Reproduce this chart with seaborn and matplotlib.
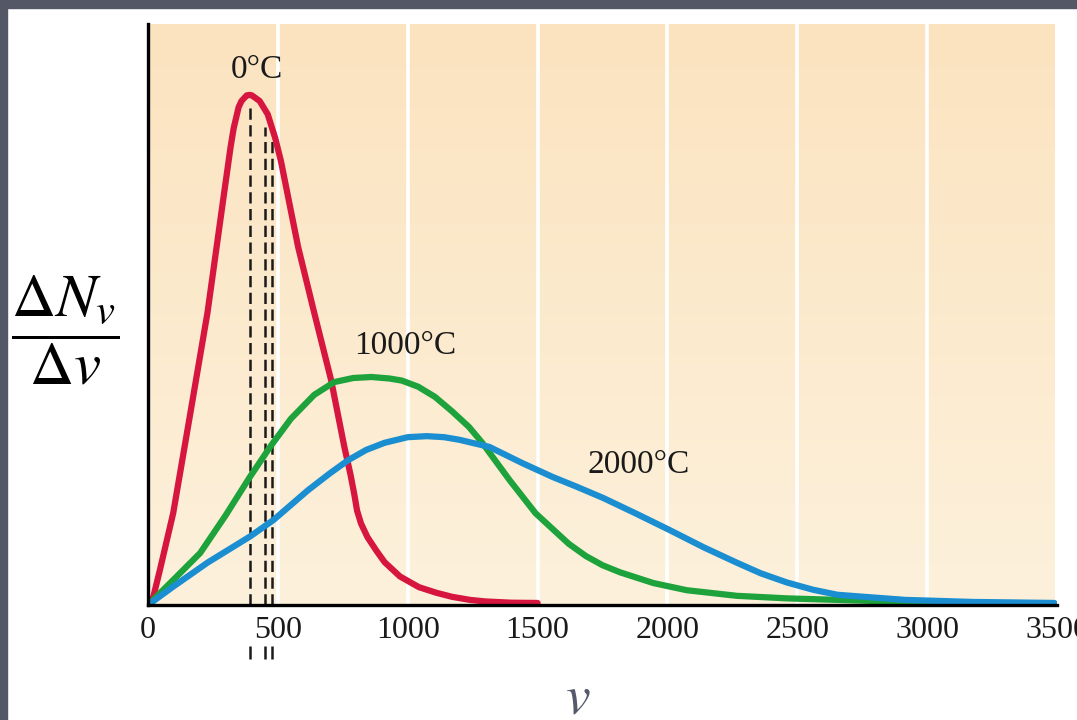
import numpy as np
import matplotlib
matplotlib.use("Agg")
import matplotlib.pyplot as plt
from matplotlib.colors import LinearSegmentedColormap
from matplotlib.patches import Rectangle
import seaborn as sns

# speed v (m/s) and relative number dN/dv (red peak = 100)
v_0c = [0, 20, 46, 97, 163, 229, 291, 318, 330, 349, 360, 380, 391, 400, 430, 461,
        490, 512, 578, 640, 705, 756, 780, 795, 805, 820, 845, 880, 911, 970, 1043,
        1110, 1171, 1240, 1298, 1400, 1500]
n_0c = [0, 1.5, 6.9, 18.0, 37.6, 57.3, 80.0, 89.8, 93.5, 97.6, 98.8, 99.9, 100, 99.9,
        98.8, 96.2, 91.5, 87.0, 70.2, 57.3, 44.1, 31.0, 25.5, 21.5, 18.5, 16.0, 13.3,
        10.6, 8.4, 5.6, 3.5, 2.4, 1.6, 1.0, 0.7, 0.45, 0.4]

v_1000c = [0, 97, 201, 298, 391, 473, 550, 640, 717, 790, 860, 930, 977, 1040, 1105,
           1170, 1236, 1287, 1392, 1492, 1558, 1620, 1686, 1750, 1818, 1946, 2074,
           2267, 2460, 2655, 2915, 3300]
n_1000c = [0, 4.9, 10.2, 17.5, 25.0, 31.2, 36.5, 41.2, 43.7, 44.5, 44.7, 44.4, 44.0,
           42.8, 40.8, 38.0, 34.9, 31.8, 24.5, 18.0, 14.9, 12.0, 9.6, 7.8, 6.4, 4.3,
           2.9, 1.8, 1.3, 1.0, 0.6, 0.3]

v_2000c = [0, 97, 229, 395, 484, 616, 700, 771, 840, 911, 1000, 1074, 1140, 1198,
           1314, 1442, 1558, 1650, 1752, 1880, 2012, 2140, 2267, 2360, 2461, 2560,
           2655, 2915, 3174, 3490]
n_2000c = [0, 3.6, 8.3, 13.5, 16.7, 22.5, 25.8, 28.4, 30.4, 31.8, 32.9, 33.1, 32.9,
           32.4, 31.0, 27.8, 25.1, 23.2, 21.0, 17.9, 14.6, 11.3, 8.3, 6.2, 4.4, 3.0,
           2.0, 1.0, 0.6, 0.4]

# characteristic speeds at 0 C (dashed markers) and their heights
mark_v = [391, 450, 477]
mark_top = [98.4, 93.7, 92.0]

labels = ["0°C", "1000°C", "2000°C"]
label_x = [419, 992, 1888]
label_y = [104.9, 50.8, 27.5]

xticks = [0, 500, 1000, 1500, 2000, 2500, 3000, 3500]

RED = "#d6163f"
GREEN = "#1ea23c"
BLUE = "#1a8ed0"

sns.set_theme(style="white")
plt.rcParams["font.family"] = ["Liberation Serif", "DejaVu Serif"]
plt.rcParams["mathtext.fontset"] = "stix"

fig = plt.figure(figsize=(10.77, 7.2), dpi=100)
fig.patch.set_facecolor("white")
ax = fig.add_axes([148 / 1077, 115 / 720, 909 / 1077, 581 / 720])

ymax = 113.9
xmax = 3492

# peach background, a bit lighter towards the bottom
bg = LinearSegmentedColormap.from_list("bg", ["#fdf1dc", "#fbe3bf"])
ax.imshow(np.linspace(0, 1, 256).reshape(-1, 1), cmap=bg, origin="lower",
          extent=[0, xmax, 0, ymax], aspect="auto", zorder=0)

for x in xticks[1:-1]:
    ax.axvline(x, color="white", lw=2.6, zorder=0.5)

sns.lineplot(x=v_0c, y=n_0c, ax=ax, color=RED, lw=4.5, sort=False, zorder=3)
sns.lineplot(x=v_1000c, y=n_1000c, ax=ax, color=GREEN, lw=4.5, sort=False, zorder=3)
sns.lineplot(x=v_2000c, y=n_2000c, ax=ax, color=BLUE, lw=4.5, sort=False, zorder=3)
for line in ax.get_lines():
    line.set_solid_capstyle("round")
    line.set_solid_joinstyle("round")

ax.vlines(mark_v, 0, mark_top, colors="#1a1a1a", lw=1.8, linestyles=(0, (4.5, 2.2)), zorder=2)
ax.vlines(mark_v, -8.0, -10.6, colors="#1a1a1a", lw=1.8, clip_on=False)

for t, x, y in zip(labels, label_x, label_y):
    ax.text(x, y, t, fontsize=24, ha="center", va="center", color="#1a1a1a")

ax.set_xlim(0, xmax)
ax.set_ylim(0, ymax)
ax.set_xticks(xticks)
ax.set_xticklabels([str(t) for t in xticks], fontsize=23, color="#1a1a1a")
ax.set_yticks([])
ax.tick_params(axis="x", length=0, pad=8)

for s in ["top", "right"]:
    ax.spines[s].set_visible(False)
for s in ["left", "bottom"]:
    ax.spines[s].set_color("black")
    ax.spines[s].set_linewidth(2.4)
    ax.spines[s].set_zorder(4)

ax.set_ylabel(r"$\dfrac{\Delta N_v}{\Delta v}$", fontsize=44, rotation=0,
              ha="center", va="center", color="black")
ax.yaxis.set_label_coords(-0.091, 0.473)
ax.set_xlabel(r"$v$", fontsize=40, color="#555a6a", va="center")
ax.xaxis.set_label_coords(0.473, -0.163)

# dark frame strips at the top and left edge
fig.patches.append(Rectangle((0, 1 - 8 / 720), 1, 8 / 720, transform=fig.transFigure,
                             color="#545766", zorder=10))
fig.patches.append(Rectangle((0, 0), 7 / 1077, 1, transform=fig.transFigure,
                             color="#545766", zorder=10))

fig.savefig("out.png", dpi=100)
